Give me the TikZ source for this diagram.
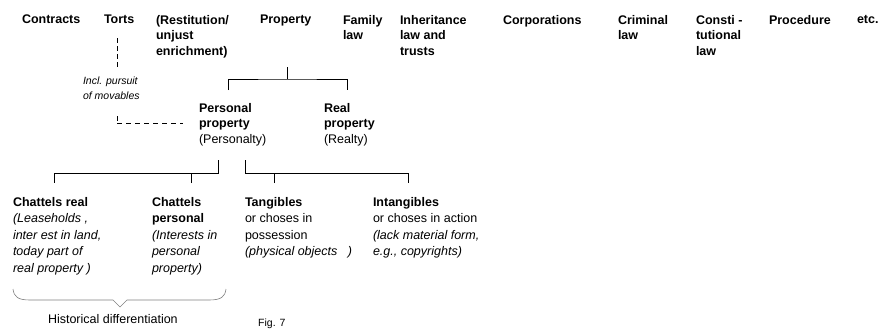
\documentclass[tikz,border=0pt]{standalone}
\usepackage{fontspec}
\setmainfont{Liberation Sans}
\newcommand\bl[1]{\textbf{#1}}
\newcommand\itl[1]{\textit{#1}}
\begin{document}
\begin{tikzpicture}[x=1pt,y=-1pt,
  lab/.style={anchor=north west, inner sep=0pt, outer sep=0pt, align=left, font={\fontsize{12.5}{15.5}\selectfont\bfseries}},
  sub/.style={anchor=north west, inner sep=0pt, outer sep=0pt, align=left, font={\fontsize{12.5}{16.6}\selectfont}},
  note/.style={anchor=north west, inner sep=0pt, outer sep=0pt, align=left, font={\fontsize{10.5}{15}\selectfont\itshape}},
  ln/.style={line width=0.8pt, black},
  dshv/.style={line width=0.8pt, dash pattern=on 5pt off 3pt},
  dshh/.style={line width=0.8pt, dash pattern=on 5pt off 4pt},
  brace/.style={line width=0.6pt, gray}]
\useasboundingbox (0,0) rectangle (880,332);
% top row
\node[lab] (contracts) at (22,15) {Contracts};
\node[lab] (torts) at (104,15) {Torts};
\node[lab] (restitution) at (156,15) {(Restitution/\\unjust\\enrichment)};
\node[lab] (property) at (260,15) {Property};
\node[lab] (family) at (343,15) {Family\\law};
\node[lab] (inherit) at (400,15) {Inheritance\\law and\\trusts};
\node[lab] (corp) at (503,15) {Corporations};
\node[lab] (criminal) at (618,15) {Criminal\\law};
\node[lab] (const) at (696,15) {Consti -\\tutional\\law};
\node[lab] (proc) at (769,15) {Procedure};
\node[lab] (etc) at (857,15) {etc.};
% second level
\node[lab] (personal) at (199,103) {Personal\\property\\\mdseries(Personalty)};
\node[lab] (real) at (324,103) {Real\\property\\\mdseries(Realty)};
% note
\node[note] (note) at (83,77) {Incl. pursuit\\of movables};
% third level
\node[sub] (chreal) at (13,197) {\bl{Chattels real}\\\itl{(Leaseholds ,}\\\itl{inter est in land,}\\\itl{today part of}\\\itl{real property )}};
\node[sub] (chpers) at (152,197) {\bl{Chattels}\\\bl{personal}\\\itl{(Interests in}\\\itl{personal}\\\itl{property)}};
\node[sub] (tang) at (245,197) {\bl{Tangibles}\\or choses in\\possession\\\itl{(physical objects\ \ \ )}};
\node[sub] (intang) at (373,197) {\bl{Intangibles}\\or choses in action\\\itl{(lack material form,}\\\itl{e.g., copyrights)}};
\node[sub] (hist) at (48,314) {Historical differentiation};
\node[anchor=north west, inner sep=0pt, font={\fontsize{10.5}{12}\selectfont}] (fig) at (258,319) {Fig. 7};
% tree property
\coordinate (pstem) at (287,67);
\coordinate (pbar) at (287,79);
\coordinate (pL) at (228,90);
\coordinate (pR) at (347,90);
\draw[ln] (pstem) -- (pbar);
\draw[ln] (pL) |- (pbar) -| (pR);
% tree personal
\coordinate (ppL) at (218,160);
\coordinate (ppLb) at (218,173);
\coordinate (cr) at (54,183);
\coordinate (cp) at (191,183);
\coordinate (ppR) at (245,160);
\coordinate (ppRb) at (245,173);
\coordinate (tg) at (274,183);
\coordinate (itg) at (408,183);
\draw[ln] (ppL) -- (ppLb) -| (cr);
\draw[ln] (cp) -- (cp |- ppLb);
\draw[ln] (ppR) -- (ppRb) -| (itg);
\draw[ln] (tg) -- (tg |- ppRb);
% dashed
\coordinate (d1) at (117,38);
\coordinate (d2) at (117,68);
\coordinate (d3) at (117,116);
\coordinate (d4) at (117,123);
\coordinate (d5) at (183,123);
\draw[dshv] (d1) -- (d2);
\draw[dshv] (d3) -- (d4);
\draw[dshh] (d4) -- (d5);
% brace
\coordinate (bL) at (13,289);
\coordinate (bR) at (226,289);
\coordinate (bT) at (120,307);
\draw[brace] (bL) .. controls (14,297) and (18,300) .. (30,300) -- (113,300) -- (bT) -- (127,300) -- (209,300) .. controls (221,300) and (225,297) .. (bR);
\end{tikzpicture}
\end{document}
